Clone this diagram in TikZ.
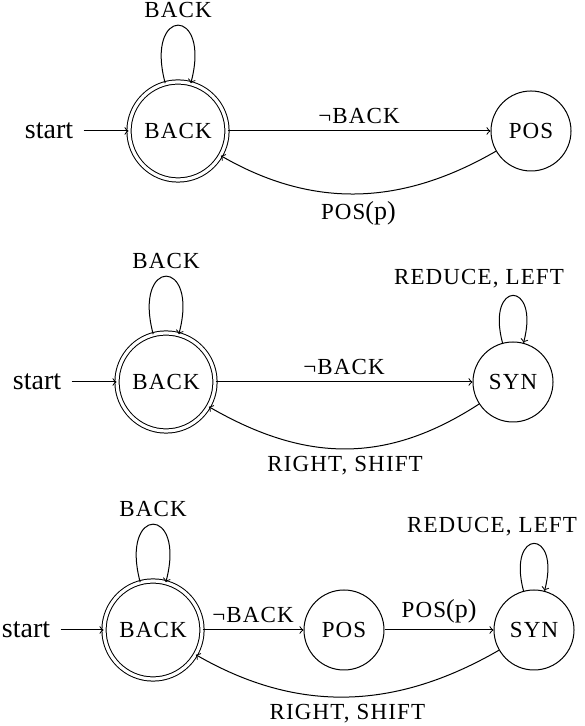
\documentclass[tikz,border=0pt]{standalone}
\usepackage{fontspec}
\setmainfont{Liberation Serif}
\usetikzlibrary{positioning}

\newcommand{\tok}[1]{{\fontsize{11.5}{13}\selectfont\addfontfeature{LetterSpace=5}#1}}

\tikzset{
  state/.style={draw, circle, minimum size=40pt, inner sep=0pt},
  final/.style={state, double, double distance=1.6pt, minimum size=49pt},
  lbl/.style={font=\fontsize{13}{15}\selectfont},
  entry/.style={font=\fontsize{14}{16}\selectfont, inner sep=5pt}
}

\begin{document}
\begin{tikzpicture}[x=0.5pt, y=0.5pt, >=to, line width=0.5pt]
    \useasboundingbox (0,0) rectangle (584,726);

    % first automaton
    \node[final] (back1) at (178,595) {\tok{BACK}};
    \node[state] (pos1) at (531,595) {\tok{POS}};
    \node[entry] (start1) at (49,595) {start};

    \draw[->] (start1) -- (back1);
    \draw[->] (back1) to[loop above] node[above, lbl] {\tok{BACK}} (back1);
    \draw[->] (back1) -- node[above, lbl] {\tok{¬BACK}} (pos1);
    \draw[->] (pos1) to[out=210, in=-30] node[below, lbl] {\tok{POS}(p)} (back1);

    % second automaton
    \node[final] (back2) at (166,344) {\tok{BACK}};
    \node[state] (syn2) at (513,344) {\tok{SYN}};
    \node[entry] (start2) at (37,344) {start};

    \draw[->] (start2) -- (back2);
    \draw[->] (back2) to[loop above] node[above, lbl] {\tok{BACK}} (back2);
    \draw[->] (syn2) to[loop above] node[above, lbl, xshift=-17pt] {\tok{REDUCE, LEFT}} (syn2);
    \draw[->] (back2) -- node[above, lbl] {\tok{¬BACK}} (syn2);
    \draw[->] (syn2) to[out=213, in=-30, looseness=1.05] node[below, lbl] {\tok{RIGHT, SHIFT}} (back2);

    % third automaton
    \node[final] (back3) at (153,96) {\tok{BACK}};
    \node[state] (pos3) at (344,96) {\tok{POS}};
    \node[state] (syn3) at (534,96) {\tok{SYN}};
    \node[entry] (start3) at (26,96) {start};

    \draw[->] (start3) -- (back3);
    \draw[->] (back3) to[loop above] node[above, lbl] {\tok{BACK}} (back3);
    \draw[->] (syn3) to[loop above] node[above, lbl, xshift=-21pt] {\tok{REDUCE, LEFT}} (syn3);
    \draw[->] (back3) -- node[above, lbl] {\tok{¬BACK}} (pos3);
    \draw[->] (pos3) -- node[above, lbl] {\tok{POS}(p)} (syn3);
    \draw[->] (syn3) to[out=210, in=-30] node[below, lbl] {\tok{RIGHT, SHIFT}} (back3);
\end{tikzpicture}
\end{document}
